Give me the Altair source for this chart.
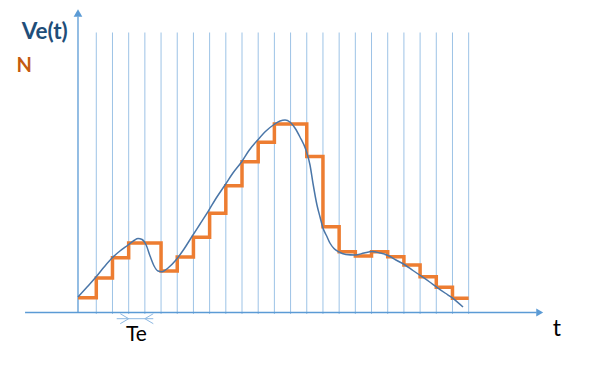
import altair as alt
import pandas as pd

# ---- data (time in units of Te, amplitude in arbitrary units) ----
# sampling instants and held (quantised) values N
sample_t = [-0.13, 1, 2, 3, 4, 5, 6, 7, 8, 9, 10, 11, 12, 13, 14, 15, 16, 17, 18, 19, 20, 21, 22, 23, 24]
sample_n = [1.48, 3.45, 5.48, 6.95, 6.95, 4.15, 5.55, 7.52, 9.92, 12.68, 15.08, 17.02, 18.85, 18.85,
            15.6, 8.58, 6.08, 5.65, 6.08, 5.58, 4.75, 3.58, 2.52, 1.42, 1.42]

# analog signal Ve(t)
curve_t = [-0.13, 0.43, 0.98, 1.48, 1.97, 2.46, 2.96, 3.33, 3.58, 3.83, 4.08, 4.32, 4.57, 4.81, 5.06,
           5.43, 5.92, 6.42, 6.91, 7.41, 7.90, 8.39, 8.95, 9.44, 9.98, 10.43, 10.97, 11.48, 11.98,
           12.35, 12.66, 12.96, 13.27, 13.58, 13.95, 14.20, 14.38, 14.63, 14.82, 15.00, 15.23, 15.43,
           15.68, 15.95, 16.42, 16.98, 17.54, 18.03, 18.52, 19.02, 19.51, 20.07, 20.56, 21.06, 21.55,
           22.04, 22.54, 23.03, 23.65]
curve_v = [1.55, 2.55, 3.55, 4.55, 5.45, 6.15, 6.75, 7.2, 7.4, 7.3, 6.75, 5.65, 4.65, 4.15, 4.08,
           4.45, 5.25, 6.35, 7.6, 8.85, 10.08, 11.4, 12.75, 13.95, 15.08, 16.2, 17.25, 18.15, 18.8,
           19.15, 19.25, 19.05, 18.45, 17.55, 16.25, 14.75, 12.95, 10.75, 9.55, 8.45, 7.65, 6.95,
           6.4, 6.08, 5.8, 5.75, 5.95, 6.1, 5.95, 5.7, 5.25, 4.75, 4.2, 3.65, 3.1,
           2.52, 1.95, 1.42, 0.55]

# sampling grid lines
grid_t = [1, 2, 3, 4, 5, 6, 7, 8, 9, 10, 11, 12, 13, 14, 15, 16, 17, 18, 19, 20, 21, 22, 23, 24]
grid_bottom = -0.15
grid_top = 28.0

# axes
axis_t0 = -0.13
x_axis_start, x_axis_end = -3.40, 28.2
y_axis_end = 29.6

# labels
labels_text = ["Ve(t)", "N", "t", "Te"]

XS = alt.Scale(domain=[-4.4534, 31.6177], nice=False, zero=False)
YS = alt.Scale(domain=[-5.35, 30.45], nice=False, zero=False)

def X(f):
    return alt.X(f, type="quantitative", scale=XS, axis=None)

def Y(f):
    return alt.Y(f, type="quantitative", scale=YS, axis=None)

grid_df = pd.DataFrame({"t": grid_t, "y0": [grid_bottom] * len(grid_t), "y1": [grid_top] * len(grid_t)})
grid = alt.Chart(grid_df).mark_rule(color="#9DC3E6", strokeWidth=1).encode(
    x=X("t"), y=Y("y0"), y2="y1")

axes_df = pd.DataFrame({
    "x1": [x_axis_start, axis_t0],
    "x2": [x_axis_end, axis_t0],
    "y1": [0.0, 0.0],
    "y2": [0.0, y_axis_end],
})
axes = alt.Chart(axes_df).mark_rule(color="#5B9BD5", strokeWidth=1.3).encode(
    x=X("x1"), x2="x2", y=Y("y1"), y2="y2")

up_df = pd.DataFrame({"t": [axis_t0], "v": [29.94]})
up_arrow = alt.Chart(up_df).mark_point(shape="triangle-up", filled=True, size=75,
                                       color="#5B9BD5", opacity=1).encode(x=X("t"), y=Y("v"))
right_df = pd.DataFrame({"t": [28.39], "v": [0.0]})
right_arrow = alt.Chart(right_df).mark_point(shape="triangle-right", filled=True, size=64,
                                             color="#5B9BD5", opacity=1).encode(x=X("t"), y=Y("v"))

# Te dimension arrows
te_y = -0.62
te_df = pd.DataFrame({
    "x1": [2.26, 2.48, 2.48, 4.52, 4.52],
    "x2": [4.52, 3.00, 3.00, 4.00, 4.00],
    "y1": [te_y, te_y + 0.5, te_y - 0.5, te_y + 0.5, te_y - 0.5],
    "y2": [te_y, te_y, te_y, te_y, te_y],
})
te_arrows = alt.Chart(te_df).mark_rule(color="#8DB8E2", strokeWidth=1).encode(
    x=X("x1"), x2="x2", y=Y("y1"), y2="y2")

step_df = pd.DataFrame({"t": sample_t, "n": sample_n})
steps = alt.Chart(step_df).mark_line(interpolate="step-after", color="#ED7D31",
                                     strokeWidth=3.5).encode(x=X("t"), y=Y("n"))

curve_df = pd.DataFrame({"t": curve_t, "v": curve_v})
curve = alt.Chart(curve_df).mark_line(interpolate="monotone", color="#4A76A8",
                                      strokeWidth=1.5).encode(x=X("t"), y=Y("v"))

def label(text, t, v, size, color, weight="normal", align="left"):
    df = pd.DataFrame({"t": [t], "v": [v], "s": [text]})
    return alt.Chart(df).mark_text(font="Lato", fontSize=size, fontWeight=weight, color=color,
                                   align=align, baseline="alphabetic").encode(
        x=X("t"), y=Y("v"), text="s:N")

ve_label = label(labels_text[0], -3.61, 27.35, 22.5, "#1F4E79", "bold")
n_label = label(labels_text[1], -3.93, 24.05, 20, "#C55A11", "bold")
t_label = label(labels_text[2], 29.45, -2.35, 23, "#000000", align="center")
te_label = label(labels_text[3], 3.48, -2.82, 21, "#000000", align="center")

chart = alt.layer(
    grid, axes, up_arrow, right_arrow, te_arrows, steps, curve,
    ve_label, n_label, t_label, te_label,
).properties(
    width=584, height=358,
    autosize=alt.AutoSizeParams(type="none"),
    padding=0,
    background="white",
).configure_view(stroke=None)

chart.save("out.html", embed_options={"renderer": "svg", "actions": False})
